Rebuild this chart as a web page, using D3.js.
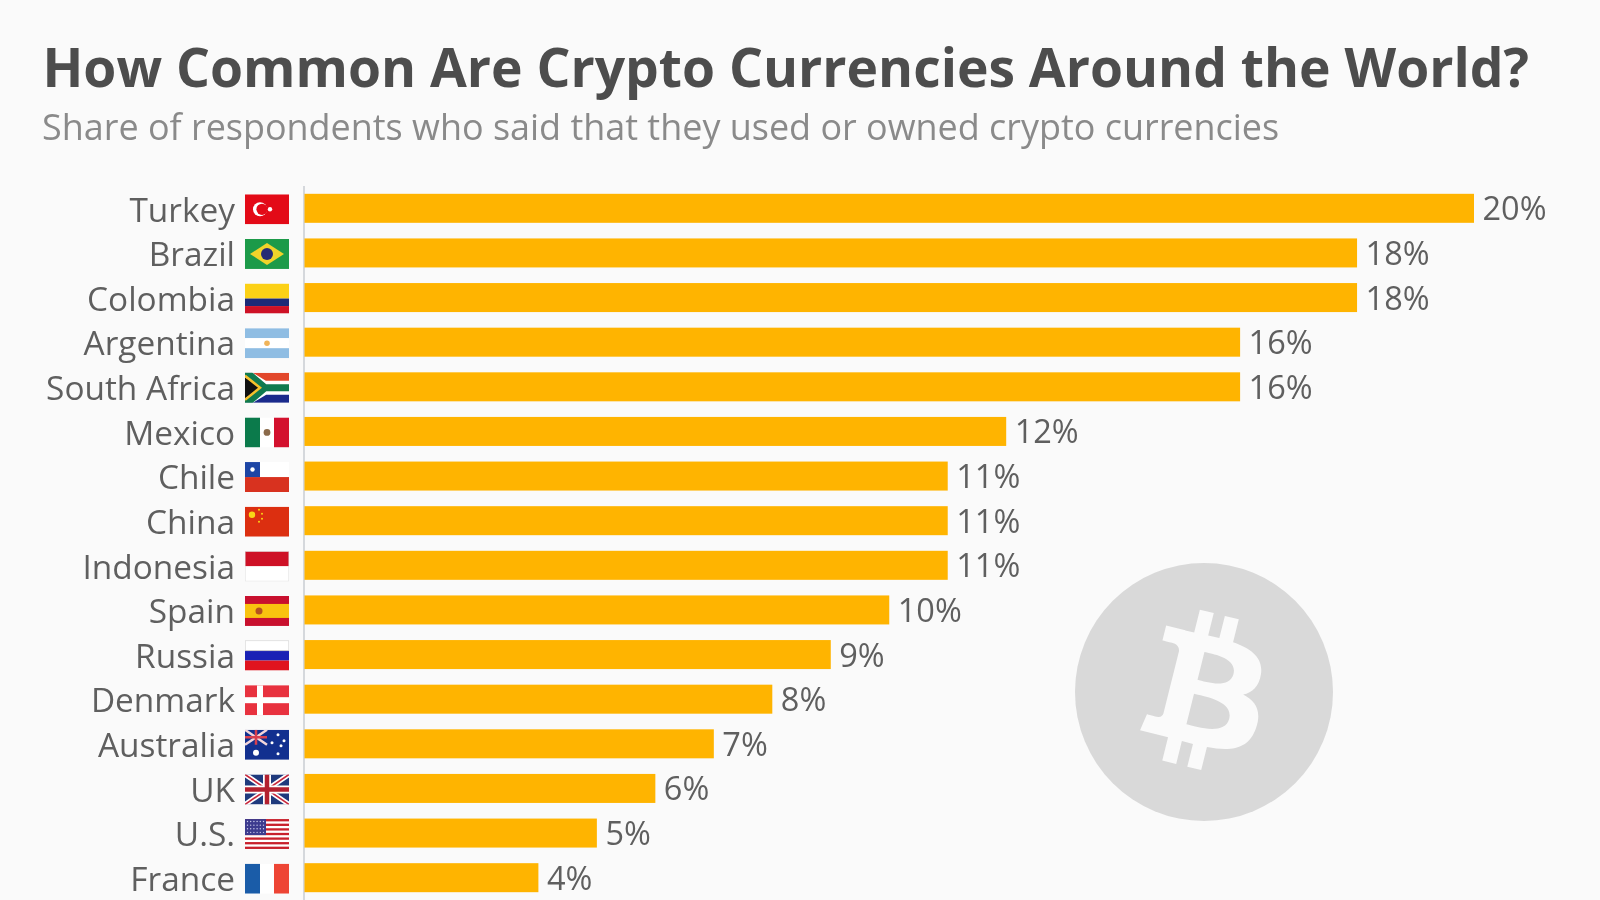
<!DOCTYPE html>
<html><head><meta charset="utf-8">
<script src="https://cdn.jsdelivr.net/npm/d3@7"></script>
<style>html,body{margin:0;padding:0;background:#fafafa;overflow:hidden}svg{display:block;filter:blur(0.5px)}text{font-family:"Open Sans",sans-serif}</style>
</head><body><div id="chart"></div>
<script>
const titleText = "How Common Are Crypto Currencies Around the World?";
const subtitleText = "Share of respondents who said that they used or owned crypto currencies";
const categories = ["Turkey","Brazil","Colombia","Argentina","South Africa","Mexico","Chile","China","Indonesia","Spain","Russia","Denmark","Australia","UK","U.S.","France"];
const values = [20,18,18,16,16,12,11,11,11,10,9,8,7,6,5,4];

const W=1600,H=900;
const svg=d3.select("#chart").append("svg").attr("width",W).attr("height",H);
svg.append("rect").attr("width",W).attr("height",H).attr("fill","#fafafa");

const x=d3.scaleLinear().domain([0,20]).range([304.5,1474]);
const y=d3.scaleBand().domain(categories).range([186,900]).paddingInner(0.35).paddingOuter(0.175);
const cy=d=>y(d)+y.bandwidth()/2;

svg.append("text").attr("x",42.5).attr("y",87).attr("font-size",53.4).attr("font-weight",700).attr("fill","#4d4d4d").text(titleText);
svg.append("text").attr("x",42).attr("y",139.5).attr("font-size",35.95).attr("fill","#8a8a8a").text(subtitleText);

// Bitcoin watermark
const coin=svg.append("g").attr("transform","translate(1204,692)");
coin.append("circle").attr("r",129).attr("fill","#d9d9d9");
coin.append("path").attr("transform","translate(-0.5,1) scale(3.96) translate(-31.6,-32.2)").attr("fill","#fafafa").attr("fill-rule","evenodd")
 .attr("d","M46.11 27.441c.636-4.258-2.606-6.547-7.039-8.074l1.438-5.768-3.512-.875-1.4 5.616c-.922-.23-1.87-.447-2.812-.662l1.41-5.653-3.509-.875-1.439 5.766c-.764-.174-1.514-.346-2.242-.527l.004-.018-4.842-1.209-.934 3.75s2.605.597 2.55.634c1.422.355 1.68 1.296 1.636 2.042l-1.638 6.571c.098.025.225.061.365.117l-.37-.092-2.297 9.205c-.174.432-.615 1.08-1.609.834.035.051-2.552-.637-2.552-.637l-1.743 4.02 4.57 1.139c.85.213 1.683.436 2.502.646l-1.453 5.835 3.507.875 1.44-5.772c.957.26 1.887.5 2.797.726L27.504 50.8l3.511.875 1.453-5.823c5.987 1.133 10.49.676 12.383-4.738 1.527-4.36-.075-6.875-3.225-8.516 2.294-.531 4.022-2.04 4.483-5.157zM38.087 38.69c-1.086 4.36-8.426 2.004-10.807 1.412l1.928-7.729c2.38.594 10.011 1.77 8.88 6.317zm1.085-11.312c-.99 3.966-7.1 1.951-9.083 1.457l1.748-7.01c1.983.494 8.367 1.416 7.335 5.553z");

// axis line
svg.append("line").attr("x1",304).attr("x2",304).attr("y1",186).attr("y2",900).attr("stroke","#d5d8dc").attr("stroke-width",2);

// bars
svg.selectAll("rect.bar").data(categories).join("rect").attr("class","bar")
 .attr("x",x(0)).attr("y",d=>y(d)).attr("height",y.bandwidth())
 .attr("width",(d,i)=>x(values[i])-x(0)).attr("fill","#ffb400");

// value labels
svg.selectAll("text.val").data(categories).join("text").attr("class","val")
 .attr("x",(d,i)=>x(values[i])+8.5).attr("y",d=>cy(d)+0.3).attr("dy","0.36em")
 .attr("font-size",32.5).attr("fill","#5f5f5f").text((d,i)=>values[i]+"%");

// category labels
svg.selectAll("text.cat").data(categories).join("text").attr("class","cat")
 .attr("x",235).attr("y",d=>cy(d)+1.2).attr("dy","0.36em").attr("text-anchor","end")
 .attr("font-size",33.4).attr("fill","#5f5f5f").text(d=>d);

// flags, drawn in a local 44 x 30 box
const R=(g,x,y,w,h,f)=>g.append("rect").attr("x",x).attr("y",y).attr("width",w).attr("height",h).attr("fill",f);
const C=(g,x,y,r,f)=>g.append("circle").attr("cx",x).attr("cy",y).attr("r",r).attr("fill",f);
const P=(g,d,f)=>g.append("path").attr("d",d).attr("fill",f);
const L=(g,d,s,w)=>g.append("path").attr("d",d).attr("fill","none").attr("stroke",s).attr("stroke-width",w);
const H3=(g,a,b,c)=>{R(g,0,0,44,10,a);R(g,0,10,44,10,b);R(g,0,20,44,10,c);};
const V3=(g,a,b,c)=>{R(g,0,0,15,30,a);R(g,15,0,14,30,b);R(g,29,0,15,30,c);};
const flags={
 "Turkey":g=>{R(g,0,0,44,30,"#e30a17");C(g,15,15,7,"#fff");C(g,17,15,5.6,"#e30a17");C(g,25,15,2.2,"#fff");},
 "Brazil":g=>{R(g,0,0,44,30,"#1c9a49");P(g,"M22 4L39 15L22 26L5 15Z","#f0d32a");C(g,22,15,6,"#252a74");},
 "Colombia":g=>{R(g,0,0,44,15,"#fcd116");R(g,0,15,44,7.5,"#1c2a78");R(g,0,22.5,44,7.5,"#ce1126");},
 "Argentina":g=>{H3(g,"#8fbde3","#ffffff","#8fbde3");C(g,22,15,2.8,"#f0b45a");},
 "South Africa":g=>{R(g,0,0,44,15,"#e2472b");R(g,0,15,44,15,"#1a2a8c");
   P(g,"M0 0L22 15L0 30Z","#1a1a1a");
   L(g,"M0 0L20 12H44M0 30L20 18H44","#fff",8);L(g,"M0 -2L20 15L0 32M20 15H44","#107a4f",7);
   P(g,"M0 5L13 15L0 25Z","#111");L(g,"M0 3L15 15L0 27","#f5c02c",2.5);},
 "Mexico":g=>{V3(g,"#0b7a4b","#ffffff","#d3112e");C(g,22,15,3.4,"#8a6a4a");},
 "Chile":g=>{R(g,0,0,44,15,"#fff");R(g,0,15,44,15,"#d8321f");R(g,0,0,15,15,"#1c45a5");C(g,7.5,7.5,2.2,"#fff");},
 "China":g=>{R(g,0,0,44,30,"#dc2f10");C(g,7,8,3.2,"#f9d616");[[14,3],[17,7],[17,12],[14,15]].forEach(p=>C(g,p[0],p[1],1,"#f9d616"));},
 "Indonesia":g=>{R(g,0,0,44,15,"#ce1126");R(g,0,15,44,15,"#ffffff");g.append("rect").attr("width",44).attr("height",30).attr("fill","none").attr("stroke","#ddd").attr("stroke-width",1);},
 "Spain":g=>{R(g,0,0,44,30,"#c8102e");R(g,0,8,44,14,"#f9c30f");C(g,14,15,3.5,"#b5521f");},
 "Russia":g=>{H3(g,"#ffffff","#1a22b5","#e0141e");g.append("rect").attr("width",44).attr("height",10).attr("fill","none").attr("stroke","#ccc").attr("stroke-width",1);},
 "Denmark":g=>{R(g,0,0,44,30,"#e8323f");R(g,0,12,44,6,"#fff");R(g,12,0,6,30,"#fff");},
 "Australia":g=>{R(g,0,0,44,30,"#12308f");L(g,"M0 0L22 15M22 0L0 15","#f2d5da",2.5);L(g,"M11 0V15M0 7.5H22","#d8404f",2.5);
   C(g,11,23,3,"#fff");[[33,5],[33,24],[27,13],[39,11],[36,16]].forEach(p=>C(g,p[0],p[1],1.5,"#fff"));},
 "UK":g=>{R(g,0,0,44,30,"#1f3a7d");L(g,"M0 0L44 30M44 0L0 30","#fff",5);L(g,"M0 0L44 30M44 0L0 30","#c8283c",1.6);L(g,"M22 0V30M0 15H44","#fff",8);L(g,"M22 0V30M0 15H44","#b3202f",4.5);},
 "U.S.":g=>{R(g,0,0,44,30,"#fff");d3.range(0,7).forEach(i=>R(g,0,i*4.6,44,2.3,"#c8202c"));R(g,0,0,21,16,"#3c3b8e");
   d3.range(0,4).forEach(r=>d3.range(0,6).forEach(c=>C(g,2.5+c*3.2,2.5+r*3.6,.7,"#cfd0ee")));},
 "France":g=>{V3(g,"#1a5ca8","#ffffff","#ee4535");}
};
const fx=245,fy=d=>cy(d)-14;
svg.selectAll("g.flag").data(categories).join("g").attr("class","flag")
 .attr("transform",d=>`translate(${fx},${fy(d)})`)
 .each(function(d){
   const g=d3.select(this);
   const id="clip"+categories.indexOf(d);
   g.append("clipPath").attr("id",id).append("rect").attr("width",44).attr("height",30);
   flags[d](g.append("g").attr("clip-path",`url(#${id})`));
 });
</script></body></html>
